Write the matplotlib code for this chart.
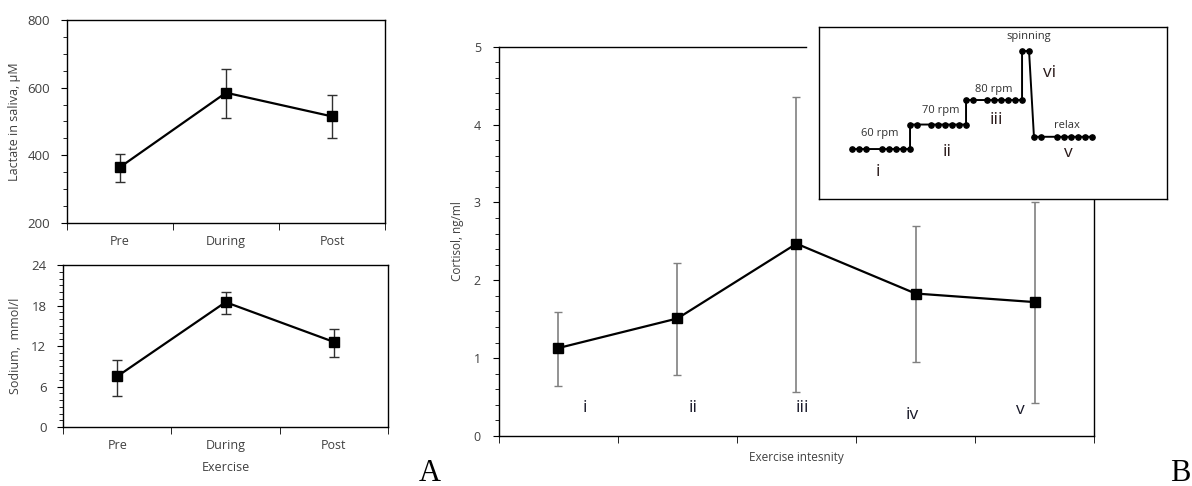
import matplotlib
matplotlib.use("Agg")
import matplotlib.pyplot as plt
from matplotlib.ticker import MultipleLocator

plt.rcParams["font.family"] = ["Open Sans", "DejaVu Sans"]

# panel A data
stages_a = ["Pre", "During", "Post"]
lactate = [365, 585, 515]
lactate_lo = [320, 511, 451]
lactate_hi = [404, 654, 577]
sodium = [7.5, 18.5, 12.6]
sodium_lo = [4.6, 16.7, 10.4]
sodium_hi = [9.9, 20.0, 14.5]

# panel B data
phases = ["i", "ii", "iii", "iv", "v"]
cortisol = [1.13, 1.51, 2.47, 1.83, 1.72]
cortisol_lo = [0.64, 0.78, 0.56, 0.95, 0.43]
cortisol_hi = [1.59, 2.22, 4.35, 2.70, 3.00]

# inset: exercise protocol (time, intensity level)
t_60 = [4.7, 5.7, 6.7, 9, 10, 11, 12, 13]
lv_60 = [1, 1, 1, 1, 1, 1, 1, 1]
t_70 = [13, 14, 16, 17, 18, 19, 20, 21]
lv_70 = [2, 2, 2, 2, 2, 2, 2, 2]
t_80 = [21, 22, 24, 25, 26, 27, 28, 29]
lv_80 = [3, 3, 3, 3, 3, 3, 3, 3]
t_spin = [29, 30]
lv_spin = [5, 5]
t_relax = [30.7, 31.7, 34, 35, 36, 37, 38, 39]
lv_relax = [1.5, 1.5, 1.5, 1.5, 1.5, 1.5, 1.5, 1.5]

TXT = "#404040"


def err(vals, lo, hi):
    return [[v - l for v, l in zip(vals, lo)], [h - v for v, h in zip(vals, hi)]]


def category_axes(ax, labels):
    n = len(labels)
    ax.set_xlim(-0.5, n - 0.5)
    ax.set_xticks(range(n), labels)
    ax.set_xticks([i - 0.5 for i in range(n + 1)], minor=True)
    ax.tick_params(axis="x", which="major", length=0, pad=9, labelsize=9, labelcolor=TXT)
    ax.tick_params(axis="x", which="minor", length=5, direction="out", color="black")
    ax.tick_params(axis="y", which="both", direction="out", labelsize=9.5, labelcolor=TXT, pad=8)
    ax.tick_params(axis="y", which="major", length=4)
    ax.tick_params(axis="y", which="minor", length=3)
    for s in ax.spines.values():
        s.set_linewidth(1.0)


fig = plt.figure(figsize=(11.92, 4.86), dpi=100)

# --- A top: lactate
ax1 = fig.add_axes([0.0562, 0.5412, 0.2668, 0.4177])
x = list(range(len(stages_a)))
ax1.errorbar(x, lactate, yerr=err(lactate, lactate_lo, lactate_hi), fmt="none",
             ecolor="#303030", elinewidth=1.0, capsize=3.5, capthick=1.0)
ax1.plot(x, lactate, color="black", lw=1.6, marker="s", ms=7)
ax1.set_ylim(200, 800)
ax1.yaxis.set_major_locator(MultipleLocator(200))
ax1.yaxis.set_minor_locator(MultipleLocator(50))
category_axes(ax1, stages_a)
ax1.set_ylabel("Lactate in saliva, µM", fontsize=9, color=TXT)
ax1.yaxis.set_label_coords(-0.145, 0.5)

# --- A bottom: sodium
ax2 = fig.add_axes([0.0529, 0.1214, 0.2727, 0.3333])
ax2.errorbar(x, sodium, yerr=err(sodium, sodium_lo, sodium_hi), fmt="none",
             ecolor="#303030", elinewidth=1.0, capsize=3.5, capthick=1.0)
ax2.plot(x, sodium, color="black", lw=1.6, marker="s", ms=7)
ax2.set_ylim(0, 24)
ax2.yaxis.set_major_locator(MultipleLocator(6))
ax2.yaxis.set_minor_locator(MultipleLocator(1))
category_axes(ax2, stages_a)
ax2.set_ylabel("Sodium,  mmol/l", fontsize=9, color=TXT)
ax2.yaxis.set_label_coords(-0.125, 0.5)
ax2.set_xlabel("Exercise", fontsize=9, color=TXT, labelpad=6)

# --- B: cortisol
ax3 = fig.add_axes([0.4186, 0.1029, 0.4992, 0.8010])
xb = list(range(len(phases)))
ax3.errorbar(xb, cortisol, yerr=err(cortisol, cortisol_lo, cortisol_hi), fmt="none",
             ecolor="#808080", elinewidth=1.2, capsize=3, capthick=1.0)
ax3.plot(xb, cortisol, color="black", lw=1.6, marker="s", ms=6.5)
ax3.set_ylim(0, 5)
ax3.yaxis.set_major_locator(MultipleLocator(1))
ax3.yaxis.set_minor_locator(MultipleLocator(0.2))
category_axes(ax3, ["", "", "", "", ""])
ax3.tick_params(axis="y", labelsize=9, pad=9)
ax3.spines["top"].set_visible(False)
ax3.plot([0, 0.516], [1, 1], transform=ax3.transAxes, color="black", lw=1.0, clip_on=False)
ax3.set_ylabel("Cortisol, ng/ml", fontsize=8.5, color=TXT)
ax3.yaxis.set_label_coords(-0.058, 0.5)
ax3.set_xlabel("Exercise intesnity", fontsize=8.5, color=TXT, labelpad=2)
phase_dx = [0.22, 0.13, 0.05, -0.03, -0.12]
phase_y = [0.36, 0.36, 0.36, 0.27, 0.33]
for i, lab in enumerate(phases):
    ax3.text(i + phase_dx[i], phase_y[i], lab, fontsize=12.5, color="#1a1a2a",
             ha="center", va="center")

# --- inset: protocol
ax4 = fig.add_axes([0.6871, 0.5905, 0.2919, 0.3539])
ax4.set_facecolor("white")
t_all = t_60 + t_70 + t_80 + t_spin + t_relax
lv_all = lv_60 + lv_70 + lv_80 + lv_spin + lv_relax
ax4.plot(t_all, lv_all, color="black", lw=1.4, marker="o", ms=3.8)
ax4.set_xlim(0, 49.7)
ax4.set_ylim(-1.04, 5.98)
ax4.set_xticks([])
ax4.set_yticks([])
for s in ax4.spines.values():
    s.set_linewidth(1.0)
small = [("60 rpm", 8.7, 1.65), ("70 rpm", 17.4, 2.59), ("80 rpm", 25.0, 3.41),
         ("spinning", 30.0, 5.58), ("relax", 35.4, 1.98)]
for s, tx, ty in small:
    ax4.text(tx, ty, s, fontsize=8, color="#303030", ha="center", va="center")
romans = [("i", 8.4, 0.07), ("ii", 18.3, 0.89), ("iii", 25.4, 2.18),
          ("vi", 33.0, 4.1), ("v", 35.6, 0.84)]
for s, tx, ty in romans:
    ax4.text(tx, ty, s, fontsize=12.5, color="#2a1a1a", ha="center", va="center")

fig.text(430 / 1192, 0.01, "A", family="Liberation Serif", fontsize=22, ha="center", va="baseline")
fig.text(1180 / 1192, 0.01, "B", family="Liberation Serif", fontsize=22, ha="center", va="baseline")

fig.savefig("out.png", dpi=100)
